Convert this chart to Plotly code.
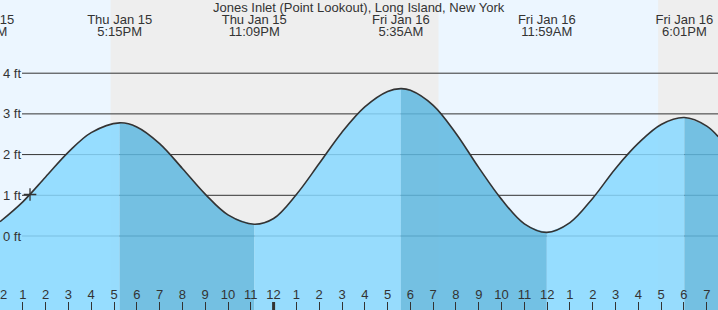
import plotly.graph_objects as go

# ---- data ----
# Tide height readings (ft) at full hours
hour_times = [
    "2026-01-15 12:00", "2026-01-15 13:00", "2026-01-15 14:00", "2026-01-15 15:00",
    "2026-01-15 16:00", "2026-01-15 18:00", "2026-01-15 19:00",
    "2026-01-15 20:00", "2026-01-15 21:00", "2026-01-15 22:00",
    "2026-01-16 00:00", "2026-01-16 01:00", "2026-01-16 02:00", "2026-01-16 03:00",
    "2026-01-16 04:00", "2026-01-16 05:00", "2026-01-16 06:00", "2026-01-16 07:00",
    "2026-01-16 08:00", "2026-01-16 09:00", "2026-01-16 10:00", "2026-01-16 11:00",
    "2026-01-16 13:00", "2026-01-16 14:00", "2026-01-16 15:00", "2026-01-16 16:00",
    "2026-01-16 17:00", "2026-01-16 19:00", "2026-01-16 19:30",
]
hour_heights = [
    0.35, 0.84, 1.45, 2.06,
    2.54, 2.68, 2.27,
    1.66, 1.03, 0.52,
    0.43, 1.02, 1.78, 2.55,
    3.17, 3.55, 3.58, 3.21,
    2.52, 1.68, 0.90, 0.30,
    0.33, 0.93, 1.66, 2.28,
    2.74, 2.70, 2.44,
]

# High / low tide events
ext_times = ["2026-01-15 17:15", "2026-01-15 23:09", "2026-01-16 05:35",
             "2026-01-16 11:59", "2026-01-16 18:01"]
ext_heights = [2.78, 0.29, 3.62, 0.09, 2.91]

# Event labels along the top
label_times = ["2026-01-15 11:12", "2026-01-15 17:15", "2026-01-15 23:09",
               "2026-01-16 05:35", "2026-01-16 11:59", "2026-01-16 18:01"]
label_days = ["Thu Jan 15", "Thu Jan 15", "Thu Jan 15", "Fri Jan 16", "Fri Jan 16", "Fri Jan 16"]
label_clock = ["11:12AM", "5:15PM", "11:09PM", "5:35AM", "11:59AM", "6:01PM"]

# Sunset / sunrise
sunsets = ["2026-01-15 16:51", "2026-01-16 16:52"]
sunrises = ["2026-01-16 07:14", "2026-01-17 07:15"]

# Current time marker
now_time = ["2026-01-15 13:19"]
now_height = [1.02]

# Axis ticks
tick_times = [
    "2026-01-15 12:00", "2026-01-15 13:00", "2026-01-15 14:00", "2026-01-15 15:00",
    "2026-01-15 16:00", "2026-01-15 17:00", "2026-01-15 18:00", "2026-01-15 19:00",
    "2026-01-15 20:00", "2026-01-15 21:00", "2026-01-15 22:00", "2026-01-15 23:00",
    "2026-01-16 00:00", "2026-01-16 01:00", "2026-01-16 02:00", "2026-01-16 03:00",
    "2026-01-16 04:00", "2026-01-16 05:00", "2026-01-16 06:00", "2026-01-16 07:00",
    "2026-01-16 08:00", "2026-01-16 09:00", "2026-01-16 10:00", "2026-01-16 11:00",
    "2026-01-16 12:00", "2026-01-16 13:00", "2026-01-16 14:00", "2026-01-16 15:00",
    "2026-01-16 16:00", "2026-01-16 17:00", "2026-01-16 18:00", "2026-01-16 19:00",
]
tick_labels = ["12", "1", "2", "3", "4", "5", "6", "7", "8", "9", "10", "11",
               "12", "1", "2", "3", "4", "5", "6", "7", "8", "9", "10", "11",
               "12", "1", "2", "3", "4", "5", "6", "7"]
midnight = "2026-01-16 00:00"

y_ticks = [0, 1, 2, 3, 4]
y_labels = ["0 ft", "1 ft", "2 ft", "3 ft", "4 ft"]

title = "Jones Inlet (Point Lookout), Long Island, New York"

# ---- styling ----
X_RANGE = ["2026-01-15 12:00", "2026-01-16 19:29:30"]
Y_RANGE = [-1.818, 5.798]
FONT = "Liberation Sans, Arial, sans-serif"
TXT = "#333333"
DAY = "#ECF6FF"
NIGHT = "#EEEEEE"
RISE = "rgba(135,216,255,0.85)"
FALL = "rgba(94,183,223,0.85)"

pts = sorted(list(zip(hour_times, hour_heights)) + list(zip(ext_times, ext_heights)))
px = [p[0] for p in pts]
py = [p[1] for p in pts]

fig = go.Figure()

# filled water, rising (light) / falling (dark) segments
bounds = [px[0]] + ext_times + [px[-1]]
base = Y_RANGE[0] - 0.5
for b0, b1 in zip(bounds[:-1], bounds[1:]):
    seg = [p for p in pts if b0 <= p[0] <= b1]
    sx = [p[0] for p in seg]
    sy = [p[1] for p in seg]
    col = RISE if sy[-1] > sy[0] else FALL
    fig.add_trace(go.Scatter(x=[sx[0], sx[-1]], y=[base, base], mode="lines",
                             line=dict(width=0), hoverinfo="skip", showlegend=False))
    fig.add_trace(go.Scatter(x=sx, y=sy, mode="lines", fill="tonexty", fillcolor=col,
                             line=dict(width=0, shape="spline"), hoverinfo="skip",
                             showlegend=False))

# tide curve
fig.add_trace(go.Scatter(x=px, y=py, mode="lines",
                         line=dict(color="#333333", width=1.6, shape="spline"),
                         hoverinfo="skip", showlegend=False))

# current time marker
fig.add_trace(go.Scatter(x=now_time, y=now_height, mode="markers",
                         marker=dict(symbol="cross-thin", size=9,
                                     line=dict(color="#333333", width=1.3)),
                         hoverinfo="skip", showlegend=False))

# event labels (top) and hour labels (bottom), placed in pixel rows via y2
txtfont = dict(family=FONT, size=13, color=TXT)
fig.add_trace(go.Scatter(x=label_times, y=[20.5] * len(label_times), yaxis="y2",
                         mode="text", text=label_days, textposition="middle center",
                         textfont=txtfont, hoverinfo="skip", showlegend=False))
fig.add_trace(go.Scatter(x=label_times, y=[33] * len(label_times), yaxis="y2",
                         mode="text", text=label_clock, textposition="middle center",
                         textfont=txtfont, hoverinfo="skip", showlegend=False))
fig.add_trace(go.Scatter(x=tick_times, y=[295.5] * len(tick_times), yaxis="y2",
                         mode="text", text=tick_labels, textposition="middle center",
                         textfont=txtfont, hoverinfo="skip", showlegend=False))

shapes = []
for s0, s1 in zip(sunsets, sunrises):
    shapes.append(dict(type="rect", xref="x", yref="paper", x0=s0, x1=s1, y0=0, y1=1,
                       fillcolor=NIGHT, line=dict(width=0), layer="below"))
for yv in y_ticks:
    shapes.append(dict(type="line", xref="paper", yref="y", x0=22 / 718, x1=1, y0=yv, y1=yv,
                       line=dict(color="#333333", width=1), layer="below"))
shapes.append(dict(type="line", xref="x", yref="paper", x0=midnight, x1=midnight,
                   ysizemode="pixel", yanchor=0, y0=0, y1=8,
                   line=dict(color="#333333", width=3)))

fig.update_layout(
    width=718, height=310,
    margin=dict(l=0, r=0, t=0, b=0, pad=0),
    paper_bgcolor=DAY, plot_bgcolor=DAY,
    font=dict(family=FONT, size=13, color=TXT),
    shapes=shapes,
    xaxis=dict(type="date", range=X_RANGE, tickmode="array", tickvals=tick_times,
               ticks="inside", ticklen=8, tickwidth=1, tickcolor="#333333",
               showticklabels=False,
               showgrid=False, zeroline=False, showline=False, fixedrange=True),
    yaxis=dict(range=Y_RANGE, tickmode="array", tickvals=y_ticks, ticktext=y_labels,
               ticklabelposition="inside", ticks="",
               tickfont=dict(family=FONT, size=13, color=TXT),
               showgrid=False, zeroline=False, showline=False, fixedrange=True),
    yaxis2=dict(overlaying="y", range=[310, 0], visible=False, fixedrange=True),
    annotations=[dict(text=title, xref="paper", yref="paper", x=0.5, y=1,
                      yanchor="middle", yshift=-7.5, showarrow=False,
                      font=dict(family=FONT, size=13, color=TXT))],
)

fig.write_html("out.html", config={"displayModeBar": False})
